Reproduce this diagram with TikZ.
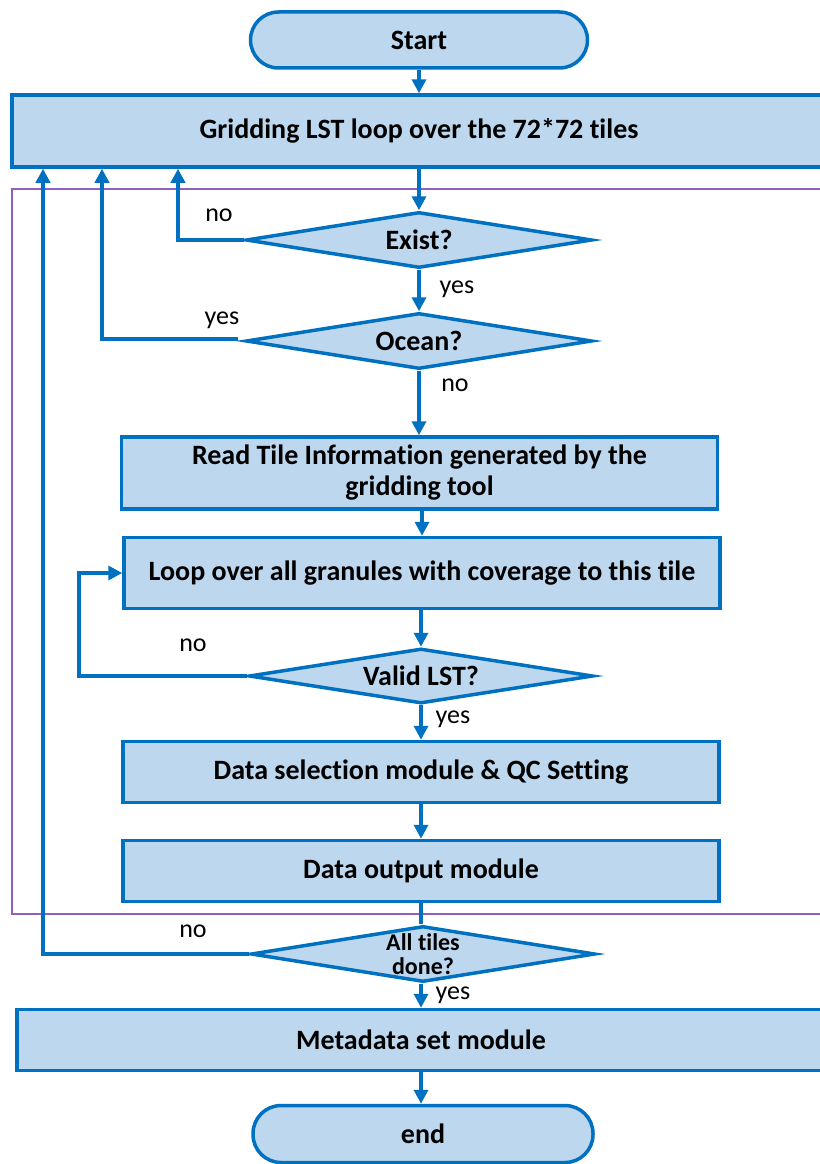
\documentclass[tikz,border=0pt]{standalone}
\usepackage{fontspec}
\setmainfont{Carlito}[Ligatures=NoCommon]
\usetikzlibrary{shapes.geometric,arrows.meta}
\definecolor{boxfill}{HTML}{BDD7EE}
\definecolor{boxline}{HTML}{0070C0}
\definecolor{frameline}{HTML}{9060C0}
\tikzset{
  base/.style={draw=boxline, fill=boxfill, line width=3.5pt, inner sep=0pt,
    font=\fontsize{28}{31}\selectfont\bfseries, align=center},
  terminal/.style={base, rectangle, rounded corners=28pt, minimum height=56pt},
  procbox/.style={base, rectangle, minimum width=596pt},
  decision/.style={base, diamond, aspect=6, minimum width=346pt, minimum height=56pt},
  arr/.style={draw=boxline, line width=3.5pt, -{Triangle[length=14pt,width=14pt]}},
  link/.style={draw=boxline, line width=3.5pt},
  lbl/.style={font=\fontsize{26}{31}\selectfont, inner sep=0pt},
}
\begin{document}
\begin{tikzpicture}[x=1pt,y=-1pt]
\useasboundingbox (0,0) rectangle (819,1164);

% grouping frame around the per-tile steps
\draw[frameline, line width=1.2pt] (830,189) -- (12,189) -- (12,914) -- (830,914);

% nodes
\node[terminal, minimum width=337pt] (start) at (419,40) {Start};
\node[procbox, minimum width=814pt, minimum height=72pt] (grid) at (419,131) {Gridding LST loop over the 72*72 tiles};
\node[decision] (exist) at (419,240) {Exist?};
\node[decision] (ocean) at (419,341) {Ocean?};
\node[procbox, minimum width=596pt, minimum height=72pt] (read) at (419.5,473) {Read Tile Information generated by the\\gridding tool};
\node[procbox, minimum height=71pt] (loop) at (422,573) {Loop over all granules with coverage to this tile};
\node[decision, minimum width=344pt, minimum height=55pt] (valid) at (421,676) {Valid LST?};
\node[procbox, minimum height=61pt] (sel) at (421,772) {Data selection module \& QC Setting};
\node[procbox, minimum height=61pt] (out) at (421,871) {Data output module};
\node[decision, minimum width=344pt, minimum height=56pt,
      font=\fontsize{24}{24}\selectfont\bfseries] (all) at (423,954) {All tiles\\done?};
\node[procbox, minimum width=808pt, minimum height=61pt] (meta) at (421,1040) {Metadata set module};
\node[terminal, minimum width=340pt, minimum height=57pt] (end) at (423,1134) {end};

% x positions of the feedback lines
\coordinate (r0) at (43,0);
\coordinate (r1) at (102,0);
\coordinate (r2) at (178,0);
\coordinate (r3) at (79,0);

% main flow
\draw[arr] (start.south) -- (start.south |- grid.north);
\draw[arr] (exist.north |- grid.south) -- (exist.north);
\draw[arr] (exist.south) -- (ocean.north);
\draw[arr] (ocean.south) -- (ocean.south |- read.north);
\draw[arr] (read.south -| loop.north) -- (loop.north);
\draw[arr] (loop.south -| valid.north) -- (valid.north);
\draw[arr] (valid.south) -- (valid.south |- sel.north);
\draw[arr] (sel.south) -- (out.north);
\draw[link] (out.south) -- (out.south |- all.north);
\draw[arr] (all.south -| meta.north) -- (meta.north);
\draw[arr] (meta.south) -- (meta.south |- end.north);

% feedback branches
\draw[arr] (exist.west) -| (r2 |- grid.south);
\draw[arr] ([xshift=-6pt,yshift=2pt]ocean.west) -| (r1 |- grid.south);
\draw[arr] (all.west) -| (r0 |- grid.south);
\draw[arr] (valid.west) -| (r3 |- loop.west) -- (loop.west);

% branch labels
\node[lbl] (l1) at (219,215) {no};
\node[lbl] (l2) at (457,289) {yes};
\node[lbl] (l3) at (222,320) {yes};
\node[lbl] (l4) at (455,385) {no};
\node[lbl] (l5) at (193,645) {no};
\node[lbl] (l6) at (453,719) {yes};
\node[lbl] (l7) at (193,931) {no};
\node[lbl] (l8) at (453,995) {yes};
\end{tikzpicture}
\end{document}
